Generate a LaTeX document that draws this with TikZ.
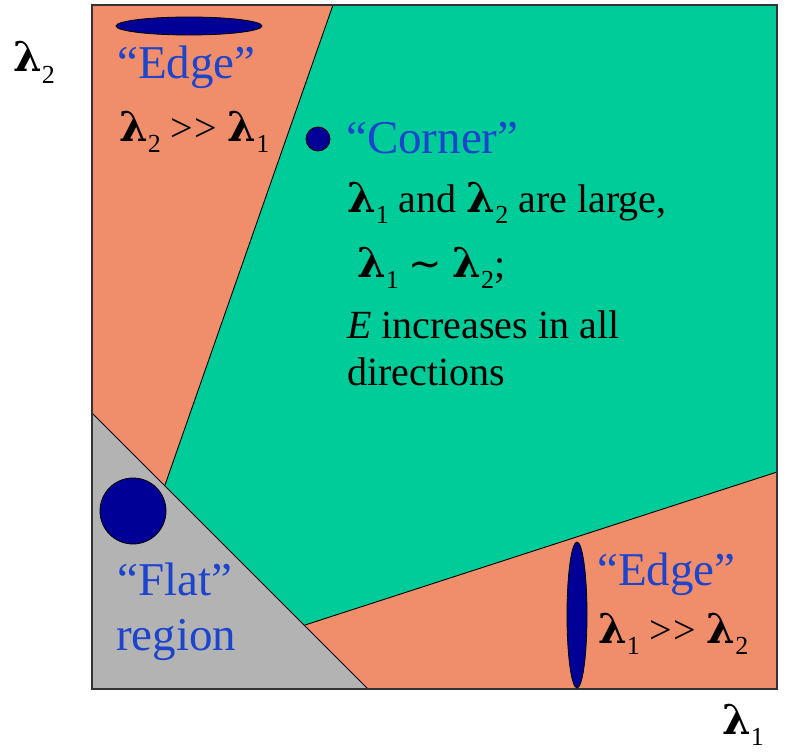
\documentclass[tikz,border=0pt]{standalone}
\usepackage{fontspec}
\setmainfont{Liberation Serif}
\newfontfamily\lamfont{DejaVu Serif}
\newfontfamily\symfont{DejaVu Sans}
\definecolor{edgeor}{RGB}{240,142,107}
\definecolor{cornergreen}{RGB}{0,204,153}
\definecolor{flatgray}{RGB}{179,179,179}
\definecolor{blobnavy}{RGB}{0,0,150}
\definecolor{labelblue}{RGB}{28,68,205}
\newcommand\lsub[1]{\raisebox{-0.29em}{\fontsize{26}{26}\selectfont #1}}
\newcommand\lam{{\lamfont\bfseries\fontsize{41}{41}\selectfont λ}}
\newcommand\mygtgt{>\kern1.5pt>}
\newcommand\mysim{{\symfont\fontsize{40}{40}\selectfont ∼}}
\tikzset{
  bluetxt/.style={text=labelblue, font=\fontsize{47}{52}\selectfont, inner sep=0pt, anchor=base west},
  blacktxt/.style={text=black, font=\fontsize{40}{46}\selectfont, inner sep=0pt, anchor=base west},
  blob/.style={fill=blobnavy, draw=black, line width=0.8pt},
  border/.style={draw=black, line width=0.9pt}
}
\begin{document}
\begin{tikzpicture}[x=1pt,y=-1pt]
\useasboundingbox (0,0) rectangle (793,752);
% regions
\coordinate (tl) at (92,5);
\coordinate (tr) at (777,5);
\coordinate (br) at (777,689);
\coordinate (bl) at (92,689);
\coordinate (gtop) at (333,5);
\coordinate (gleft) at (165,485);
\coordinate (gbot) at (305,625);
\coordinate (gright) at (777,472);
\coordinate (fltop) at (92,413);
\coordinate (flright) at (368,689);
\fill[edgeor] (tl) rectangle (br);
\fill[cornergreen] (gtop) -- (gleft) -- (gbot) -- (gright) -- (tr) -- cycle;
\draw[border] (gtop) -- (gleft);
\draw[border] (gbot) -- (gright);
\fill[flatgray] (fltop) -- (flright) -- (bl) -- cycle;
\draw[border] (fltop) -- (flright);
\draw[draw=black!80, line width=1.6pt] (tl) rectangle (br);
% blobs
\fill[blob] (189,26) ellipse [x radius=73pt, y radius=9pt];
\fill[blob] (318,139) circle [radius=12pt];
\fill[blob] (133,511) circle [radius=33pt];
\fill[blob] (577,615) ellipse [x radius=10pt, y radius=73pt];
% axis labels
\node[blacktxt] (ax2) at (13,72) {\lam\lsub{2}};
\node[blacktxt] (ax1) at (722,734) {\lam\lsub{1}};
% top-left edge
\node[bluetxt] (edgeT) at (117,79) {“Edge”};
\node[blacktxt] (edgeTl) at (119,141) {\lam\lsub{2} \mygtgt\ \lam\lsub{1}};
% corner
\node[bluetxt] (cornerT) at (346,153) {“Corner”};
\node[blacktxt] (c1) at (347,212) {\lam\lsub{1} and \lam\lsub{2} are large,};
\node[blacktxt] (c2) at (357,277) {\lam\lsub{1} \mysim\ \lam\lsub{2};};
\node[blacktxt] (c3) at (347,338) {\textit{E} increases in all};
\node[blacktxt] (c4) at (347,385) {directions};
% flat
\node[bluetxt] (flatT) at (117,595) {“Flat”};
\node[bluetxt] (flatR) at (116,650) {region};
% bottom-right edge
\node[bluetxt] (edgeB) at (597,585) {“Edge”};
\node[blacktxt] (edgeBl) at (598,643) {\lam\lsub{1} \mygtgt\ \lam\lsub{2}};
\end{tikzpicture}
\end{document}
